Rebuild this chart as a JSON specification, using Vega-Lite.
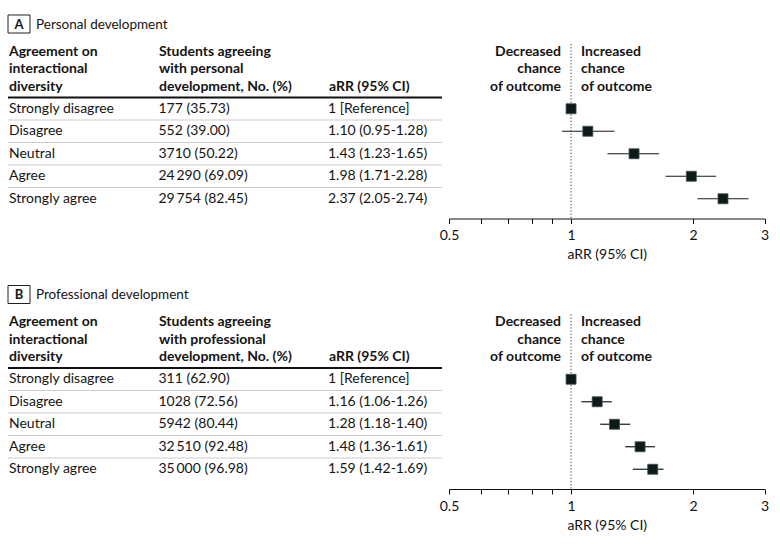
{
  "$schema": "https://vega.github.io/schema/vega-lite/v6.json",
  "padding": {"left": 7, "top": 0, "right": 0, "bottom": 0},
  "background": "white",
  "config": {
    "view": {"stroke": null},
    "font": "Lato",
    "text": {"font": "Lato", "fontSize": 14, "color": "#141414"}
  },
  "datasets": {
    "rows": [
      {"panel": "A", "group": "Strongly disagree", "n": "177 (35.73)", "arr": "1 [Reference]", "rr": 1, "lo": null, "hi": null},
      {"panel": "A", "group": "Disagree", "n": "552 (39.00)", "arr": "1.10 (0.95-1.28)", "rr": 1.10, "lo": 0.95, "hi": 1.28},
      {"panel": "A", "group": "Neutral", "n": "3710 (50.22)", "arr": "1.43 (1.23-1.65)", "rr": 1.43, "lo": 1.23, "hi": 1.65},
      {"panel": "A", "group": "Agree", "n": "24\u2009290 (69.09)", "arr": "1.98 (1.71-2.28)", "rr": 1.98, "lo": 1.71, "hi": 2.28},
      {"panel": "A", "group": "Strongly agree", "n": "29\u2009754 (82.45)", "arr": "2.37 (2.05-2.74)", "rr": 2.37, "lo": 2.05, "hi": 2.74},
      {"panel": "B", "group": "Strongly disagree", "n": "311 (62.90)", "arr": "1 [Reference]", "rr": 1, "lo": null, "hi": null},
      {"panel": "B", "group": "Disagree", "n": "1028 (72.56)", "arr": "1.16 (1.06-1.26)", "rr": 1.16, "lo": 1.06, "hi": 1.26},
      {"panel": "B", "group": "Neutral", "n": "5942 (80.44)", "arr": "1.28 (1.18-1.40)", "rr": 1.28, "lo": 1.18, "hi": 1.40},
      {"panel": "B", "group": "Agree", "n": "32\u2009510 (92.48)", "arr": "1.48 (1.36-1.61)", "rr": 1.48, "lo": 1.36, "hi": 1.61},
      {"panel": "B", "group": "Strongly agree", "n": "35\u2009000 (96.98)", "arr": "1.59 (1.42-1.69)", "rr": 1.59, "lo": 1.42, "hi": 1.69}
    ],
    "panels": [
      {"panel": "A", "title": "Personal development", "header": ["Students agreeing", "with personal", "development, No. (%)"]},
      {"panel": "B", "title": "Professional development", "header": ["Students agreeing", "with professional", "development, No. (%)"]}
    ]
  },
  "columns": 2,
  "spacing": {"row": 51.5, "column": 7},
  "bounds": "flush",
  "concat": [
    {
      "width": 434, "height": 218.5,
      "layer": [
        {"data": {"name": "panels"}, "transform": [{"filter": "datum.panel == 'A'"}],
         "mark": {"type": "rect", "fill": null, "stroke": "#222", "strokeWidth": 1},
         "encoding": {"x": {"value": 0}, "x2": {"value": 22}, "y": {"value": 15}, "y2": {"value": 33}}},
        {"data": {"name": "panels"}, "transform": [{"filter": "datum.panel == 'A'"}],
         "mark": {"type": "text", "fontWeight": "bold", "fontSize": 13, "align": "center", "baseline": "middle"},
         "encoding": {"text": {"field": "panel"}, "x": {"value": 11}, "y": {"value": 24.5}}},
        {"data": {"name": "panels"}, "transform": [{"filter": "datum.panel == 'A'"}],
         "mark": {"type": "text", "fontSize": 13.5, "align": "left", "baseline": "middle"},
         "encoding": {"text": {"field": "title"}, "x": {"value": 28}, "y": {"value": 24.5}}},
        {"data": {"name": "panels"}, "transform": [{"filter": "datum.panel == 'A'"}],
         "mark": {"type": "text", "fontWeight": "bold", "align": "left", "baseline": "alphabetic", "lineHeight": 17.5, "text": ["Agreement on", "interactional", "diversity"]},
         "encoding": {"x": {"value": 1}, "y": {"value": 55.5}}},
        {"data": {"name": "panels"}, "transform": [{"filter": "datum.panel == 'A'"}],
         "mark": {"type": "text", "fontWeight": "bold", "align": "left", "baseline": "alphabetic", "lineHeight": 17.5},
         "encoding": {"text": {"field": "header"}, "x": {"value": 151}, "y": {"value": 55.5}}},
        {"data": {"name": "panels"}, "transform": [{"filter": "datum.panel == 'A'"}],
         "mark": {"type": "text", "fontWeight": "bold", "align": "left", "baseline": "alphabetic", "text": "aRR (95% CI)"},
         "encoding": {"x": {"value": 321}, "y": {"value": 90.5}}},
        {"data": {"name": "rows"}, "transform": [{"filter": "datum.panel == 'A' && datum.group == 'Strongly disagree'"}],
         "mark": {"type": "rule", "color": "#111", "strokeWidth": 1.8},
         "encoding": {"y": {"field": "group", "type": "nominal", "bandPosition": 0, "scale": {"domain": ["Strongly disagree", "Disagree", "Neutral", "Agree", "Strongly agree"], "range": [97.5, 210], "paddingInner": 0, "paddingOuter": 0}, "axis": null}}},
        {"data": {"name": "rows"}, "transform": [{"filter": "datum.panel == 'A' && datum.group != 'Strongly disagree'"}],
         "mark": {"type": "rule", "color": "#cccccc", "strokeWidth": 1},
         "encoding": {"y": {"field": "group", "type": "nominal", "bandPosition": 0, "axis": null}}},
        {"data": {"name": "rows"}, "transform": [{"filter": "datum.panel == 'A'"}],
         "mark": {"type": "text", "align": "left", "baseline": "middle"},
         "encoding": {"text": {"field": "group"}, "x": {"value": 1}, "y": {"field": "group", "type": "nominal", "axis": null}}},
        {"data": {"name": "rows"}, "transform": [{"filter": "datum.panel == 'A'"}],
         "mark": {"type": "text", "align": "left", "baseline": "middle"},
         "encoding": {"text": {"field": "n"}, "x": {"value": 150.5}, "y": {"field": "group", "type": "nominal", "axis": null}}},
        {"data": {"name": "rows"}, "transform": [{"filter": "datum.panel == 'A'"}],
         "mark": {"type": "text", "align": "left", "baseline": "middle"},
         "encoding": {"text": {"field": "arr"}, "x": {"value": 320}, "y": {"field": "group", "type": "nominal", "axis": null}}}
      ]
    },
    {
      "width": 315.5, "height": 218.5,
      "layer": [
        {"data": {"name": "panels"}, "transform": [{"filter": "datum.panel == 'A'"}],
         "mark": {"type": "rule", "color": "#333", "strokeWidth": 1, "strokeDash": [1.2, 2]},
         "encoding": {"x": {"datum": 1, "type": "quantitative", "scale": {"type": "log", "domain": [0.5, 3], "nice": false}, "title": "aRR (95% CI)"}, "y": {"value": 44}, "y2": {"value": 218.5}}},
        {"data": {"name": "panels"}, "transform": [{"filter": "datum.panel == 'A'"}],
         "mark": {"type": "text", "fontWeight": "bold", "align": "right", "baseline": "alphabetic", "lineHeight": 17.5, "dx": -10, "text": ["Decreased", "chance", "of outcome"]},
         "encoding": {"x": {"datum": 1, "type": "quantitative", "title": "aRR (95% CI)"}, "y": {"value": 55.5}}},
        {"data": {"name": "panels"}, "transform": [{"filter": "datum.panel == 'A'"}],
         "mark": {"type": "text", "fontWeight": "bold", "align": "left", "baseline": "alphabetic", "lineHeight": 17.5, "dx": 10, "text": ["Increased", "chance", "of outcome"]},
         "encoding": {"x": {"datum": 1, "type": "quantitative", "title": "aRR (95% CI)"}, "y": {"value": 55.5}}},
        {"data": {"name": "rows"}, "transform": [{"filter": "datum.panel == 'A' && isValid(datum.lo)"}],
         "mark": {"type": "rule", "color": "#1a1a1a", "strokeWidth": 1.2},
         "encoding": {"x": {"field": "lo", "type": "quantitative", "title": "aRR (95% CI)"}, "x2": {"field": "hi"}, "y": {"field": "group", "type": "nominal", "scale": {"domain": ["Strongly disagree", "Disagree", "Neutral", "Agree", "Strongly agree"], "range": [97.5, 210], "paddingInner": 0, "paddingOuter": 0}, "axis": null}}},
        {"data": {"name": "rows"}, "transform": [{"filter": "datum.panel == 'A'"}],
         "mark": {"type": "point", "shape": "square", "filled": true, "size": 100, "color": "#0c1a1a", "stroke": "#445050", "strokeWidth": 0.8, "opacity": 1},
         "encoding": {"x": {"field": "rr", "type": "quantitative", "title": "aRR (95% CI)", "axis": {"values": [0.5, 0.6, 0.7, 0.8, 0.9, 1, 2, 3], "format": "~g", "labelExpr": "(datum.value == 0.5 || datum.value == 1 || datum.value == 2 || datum.value == 3) ? datum.label : ''", "grid": false, "tickSize": 5, "tickColor": "#111", "domainColor": "#111", "labelColor": "#111", "titleColor": "#111", "labelFontSize": 14, "titleFontSize": 14, "titleFontWeight": "normal", "labelPadding": 5, "titlePadding": 5, "labelFlush": false, "labelOverlap": false}}, "y": {"field": "group", "type": "nominal", "axis": null}}}
      ]
    },
    {
      "width": 434, "height": 218.5,
      "layer": [
        {"data": {"name": "panels"}, "transform": [{"filter": "datum.panel == 'B'"}],
         "mark": {"type": "rect", "fill": null, "stroke": "#222", "strokeWidth": 1},
         "encoding": {"x": {"value": 0}, "x2": {"value": 22}, "y": {"value": 15}, "y2": {"value": 33}}},
        {"data": {"name": "panels"}, "transform": [{"filter": "datum.panel == 'B'"}],
         "mark": {"type": "text", "fontWeight": "bold", "fontSize": 13, "align": "center", "baseline": "middle"},
         "encoding": {"text": {"field": "panel"}, "x": {"value": 11}, "y": {"value": 24.5}}},
        {"data": {"name": "panels"}, "transform": [{"filter": "datum.panel == 'B'"}],
         "mark": {"type": "text", "fontSize": 13.5, "align": "left", "baseline": "middle"},
         "encoding": {"text": {"field": "title"}, "x": {"value": 28}, "y": {"value": 24.5}}},
        {"data": {"name": "panels"}, "transform": [{"filter": "datum.panel == 'B'"}],
         "mark": {"type": "text", "fontWeight": "bold", "align": "left", "baseline": "alphabetic", "lineHeight": 17.5, "text": ["Agreement on", "interactional", "diversity"]},
         "encoding": {"x": {"value": 1}, "y": {"value": 55.5}}},
        {"data": {"name": "panels"}, "transform": [{"filter": "datum.panel == 'B'"}],
         "mark": {"type": "text", "fontWeight": "bold", "align": "left", "baseline": "alphabetic", "lineHeight": 17.5},
         "encoding": {"text": {"field": "header"}, "x": {"value": 151}, "y": {"value": 55.5}}},
        {"data": {"name": "panels"}, "transform": [{"filter": "datum.panel == 'B'"}],
         "mark": {"type": "text", "fontWeight": "bold", "align": "left", "baseline": "alphabetic", "text": "aRR (95% CI)"},
         "encoding": {"x": {"value": 321}, "y": {"value": 90.5}}},
        {"data": {"name": "rows"}, "transform": [{"filter": "datum.panel == 'B' && datum.group == 'Strongly disagree'"}],
         "mark": {"type": "rule", "color": "#111", "strokeWidth": 1.8},
         "encoding": {"y": {"field": "group", "type": "nominal", "bandPosition": 0, "scale": {"domain": ["Strongly disagree", "Disagree", "Neutral", "Agree", "Strongly agree"], "range": [97.5, 210], "paddingInner": 0, "paddingOuter": 0}, "axis": null}}},
        {"data": {"name": "rows"}, "transform": [{"filter": "datum.panel == 'B' && datum.group != 'Strongly disagree'"}],
         "mark": {"type": "rule", "color": "#cccccc", "strokeWidth": 1},
         "encoding": {"y": {"field": "group", "type": "nominal", "bandPosition": 0, "axis": null}}},
        {"data": {"name": "rows"}, "transform": [{"filter": "datum.panel == 'B'"}],
         "mark": {"type": "text", "align": "left", "baseline": "middle"},
         "encoding": {"text": {"field": "group"}, "x": {"value": 1}, "y": {"field": "group", "type": "nominal", "axis": null}}},
        {"data": {"name": "rows"}, "transform": [{"filter": "datum.panel == 'B'"}],
         "mark": {"type": "text", "align": "left", "baseline": "middle"},
         "encoding": {"text": {"field": "n"}, "x": {"value": 150.5}, "y": {"field": "group", "type": "nominal", "axis": null}}},
        {"data": {"name": "rows"}, "transform": [{"filter": "datum.panel == 'B'"}],
         "mark": {"type": "text", "align": "left", "baseline": "middle"},
         "encoding": {"text": {"field": "arr"}, "x": {"value": 320}, "y": {"field": "group", "type": "nominal", "axis": null}}}
      ]
    },
    {
      "width": 315.5, "height": 218.5,
      "layer": [
        {"data": {"name": "panels"}, "transform": [{"filter": "datum.panel == 'B'"}],
         "mark": {"type": "rule", "color": "#333", "strokeWidth": 1, "strokeDash": [1.2, 2]},
         "encoding": {"x": {"datum": 1, "type": "quantitative", "scale": {"type": "log", "domain": [0.5, 3], "nice": false}, "title": "aRR (95% CI)"}, "y": {"value": 44}, "y2": {"value": 218.5}}},
        {"data": {"name": "panels"}, "transform": [{"filter": "datum.panel == 'B'"}],
         "mark": {"type": "text", "fontWeight": "bold", "align": "right", "baseline": "alphabetic", "lineHeight": 17.5, "dx": -10, "text": ["Decreased", "chance", "of outcome"]},
         "encoding": {"x": {"datum": 1, "type": "quantitative", "title": "aRR (95% CI)"}, "y": {"value": 55.5}}},
        {"data": {"name": "panels"}, "transform": [{"filter": "datum.panel == 'B'"}],
         "mark": {"type": "text", "fontWeight": "bold", "align": "left", "baseline": "alphabetic", "lineHeight": 17.5, "dx": 10, "text": ["Increased", "chance", "of outcome"]},
         "encoding": {"x": {"datum": 1, "type": "quantitative", "title": "aRR (95% CI)"}, "y": {"value": 55.5}}},
        {"data": {"name": "rows"}, "transform": [{"filter": "datum.panel == 'B' && isValid(datum.lo)"}],
         "mark": {"type": "rule", "color": "#1a1a1a", "strokeWidth": 1.2},
         "encoding": {"x": {"field": "lo", "type": "quantitative", "title": "aRR (95% CI)"}, "x2": {"field": "hi"}, "y": {"field": "group", "type": "nominal", "scale": {"domain": ["Strongly disagree", "Disagree", "Neutral", "Agree", "Strongly agree"], "range": [97.5, 210], "paddingInner": 0, "paddingOuter": 0}, "axis": null}}},
        {"data": {"name": "rows"}, "transform": [{"filter": "datum.panel == 'B'"}],
         "mark": {"type": "point", "shape": "square", "filled": true, "size": 100, "color": "#0c1a1a", "stroke": "#445050", "strokeWidth": 0.8, "opacity": 1},
         "encoding": {"x": {"field": "rr", "type": "quantitative", "title": "aRR (95% CI)", "axis": {"values": [0.5, 0.6, 0.7, 0.8, 0.9, 1, 2, 3], "format": "~g", "labelExpr": "(datum.value == 0.5 || datum.value == 1 || datum.value == 2 || datum.value == 3) ? datum.label : ''", "grid": false, "tickSize": 5, "tickColor": "#111", "domainColor": "#111", "labelColor": "#111", "titleColor": "#111", "labelFontSize": 14, "titleFontSize": 14, "titleFontWeight": "normal", "labelPadding": 5, "titlePadding": 5, "labelFlush": false, "labelOverlap": false}}, "y": {"field": "group", "type": "nominal", "axis": null}}}
      ]
    }
  ]
}
